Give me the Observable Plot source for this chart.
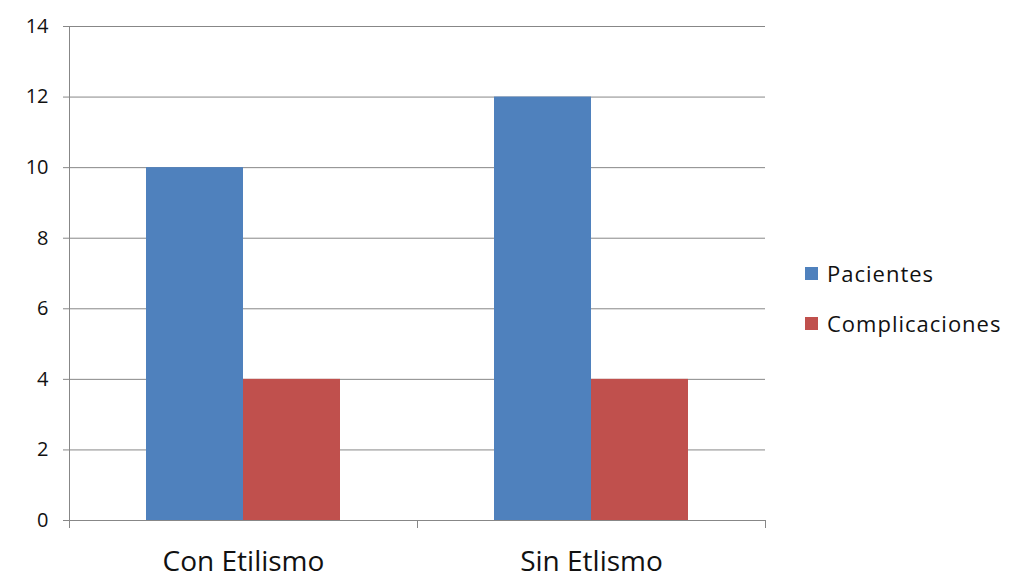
<!DOCTYPE html>
<html>
<head>
<meta charset="utf-8">
<script src="https://cdn.jsdelivr.net/npm/d3@7"></script>
<script src="https://cdn.jsdelivr.net/npm/@observablehq/plot@0.6"></script>
<style>
  html, body { margin: 0; padding: 0; background: #fff; }
  #wrap { position: relative; width: 1009px; height: 579px; font-family: "Open Sans", "Noto Sans", sans-serif; }
  #legend { position: absolute; left: 805px; top: 258px; font-size: 22px; letter-spacing: 1px; color: #111; }
  #legend .item { display: flex; align-items: center; height: 30px; margin-bottom: 20px; }
  #legend .sw { width: 13px; height: 13px; margin-right: 9px; }
</style>
</head>
<body>
<div id="wrap"></div>
<script>
const categories = ["Con Etilismo", "Sin Etlismo"];
const series = ["Pacientes", "Complicaciones"];
const pacientes = [10, 12];
const complicaciones = [4, 4];
const yTicks = [0, 2, 4, 6, 8, 10, 12, 14];
const colors = ["#4F81BD", "#C0504D"];

const data = [];
categories.forEach((c, i) => {
  data.push({category: c, series: series[0], value: pacientes[i]});
  data.push({category: c, series: series[1], value: complicaciones[i]});
});

const axisColor = "#878787";

const chart = Plot.plot({
  width: 1009,
  height: 579,
  marginLeft: 68,
  marginRight: 244,
  marginTop: 26,
  marginBottom: 59,
  style: {fontFamily: "'Open Sans', 'Noto Sans', sans-serif", background: "#fff", color: "#111"},
  fx: {domain: categories, padding: 0, label: null},
  x: {domain: series, paddingInner: 0, paddingOuter: 0.78, axis: null},
  y: {domain: [0, 14], label: null},
  color: {domain: series, range: colors},
  marks: [
    Plot.gridY(yTicks, {stroke: axisColor, strokeOpacity: 1, strokeWidth: 1}),
    Plot.barY(data, {fx: "category", x: "series", y: "value", fill: "series"}),
    Plot.frame({anchor: "left", stroke: axisColor, strokeWidth: 1, insetTop: 494, insetBottom: -7}),
    Plot.frame({anchor: "right", stroke: axisColor, strokeWidth: 1, insetTop: 494, insetBottom: -7}),
    Plot.frame({anchor: "left", facet: "super", stroke: axisColor, strokeWidth: 1, insetBottom: -7}),
    Plot.axisY(yTicks, {tickSize: 6, tickPadding: 15, fontSize: 20, stroke: axisColor, label: null, tickFormat: d => String(d)}),
    Plot.axisFx({anchor: "bottom", tickSize: 0, tickPadding: 31, fontSize: 28, label: null})
  ]
});

const wrap = document.getElementById("wrap");
wrap.appendChild(chart);

const legend = document.createElement("div");
legend.id = "legend";
series.forEach((s, i) => {
  const item = document.createElement("div");
  item.className = "item";
  const sw = document.createElement("span");
  sw.className = "sw";
  sw.style.background = colors[i];
  const t = document.createElement("span");
  t.textContent = s;
  item.appendChild(sw);
  item.appendChild(t);
  legend.appendChild(item);
});
wrap.appendChild(legend);
</script>
</body>
</html>
